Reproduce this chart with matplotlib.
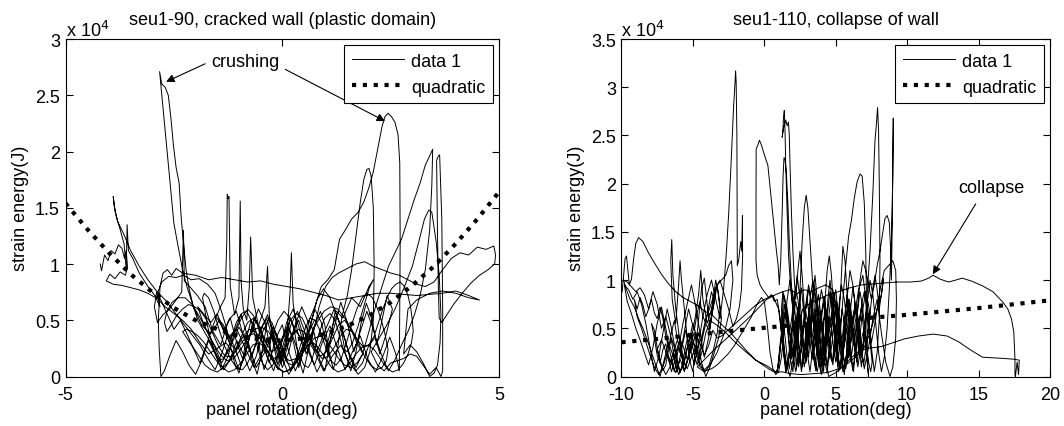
import numpy as np
import matplotlib
matplotlib.use("Agg")
import matplotlib.pyplot as plt

plt.rcParams['font.family'] = ['Liberation Sans', 'DejaVu Sans']
plt.rcParams['axes.unicode_minus'] = False

# ---- seu1-90 : panel rotation (deg) and strain energy (x 1e4 J) ----
rot_90 = [
    -4.20, -4.17, -4.10, -4.02, -3.95, -3.86, -3.78, -3.70, -3.64, -3.60,
    -3.57, -3.62, -3.74, -3.86, -3.98, -4.06, -3.90, -3.70, -3.50, -3.30,
    -3.10, -2.92, -2.82, -2.88, -2.78, -2.62, -2.45, -2.28, -2.10, -1.92,
    -1.72, -1.55, -1.42, -1.30, -1.20, -1.10, -1.00, -0.92, -0.82, -0.72,
    -0.62, -0.52, -0.42, -0.32, -0.22, -0.12, -0.02, 0.08, 0.18, 0.28,
    0.38, 0.48, 0.58, 0.72, 0.88, 0.98, 1.08, 1.18, 1.28, 1.38,
    1.50, 1.60, 1.70, 1.80, 1.88, 1.95, 2.00, 2.05, 2.10, 2.12,
    2.10, 2.02, 1.90, 1.75, 1.55, 1.35, 1.15, 0.95, 0.75, 0.55,
    0.35, 0.15, -0.05, -0.25, -0.45, -0.65, -0.85, -1.05, -1.25, -1.45,
    -1.65, -1.85, -2.05, -2.20, -2.30, -2.40, -2.50, -2.62, -2.74, -2.83,
    -2.78, -2.70, -2.63, -2.57, -2.51, -2.45, -2.38, -2.33, -2.28, -2.22,
    -2.15, -2.05, -1.95, -1.80, -1.65, -1.50, -1.35, -1.20, -1.05, -0.90,
    -0.75, -0.60, -0.45, -0.30, -0.15, 0.00, 0.15, 0.30, 0.45, 0.60,
    0.75, 0.90, 1.05, 1.20, 1.32, 1.45, 1.60, 1.75, 1.88, 2.00,
    2.10, 2.20, 2.30, 2.37, 2.44, 2.52, 2.60, 2.67, 2.71, 2.72,
    2.71, 2.70, 2.62, 2.48, 2.32, 2.15, 1.98, 1.80, 1.62, 1.45,
    1.28, 1.10, 0.92, 0.74, 0.56, 0.38, 0.20, 0.02, -0.16, -0.34,
    -0.52, -0.70, -0.88, -1.06, -1.24, -1.42, -1.60, -1.78, -1.96, -2.14,
    -2.26, -2.28, -2.32, -2.45, -2.60, -2.75, -2.88, -2.95, -2.90, -2.80,
    -2.65, -2.50, -2.35, -2.20, -2.05, -1.90, -1.75, -1.60, -1.45, -1.32,
    -1.28, -1.27, -1.25, -1.23, -1.20, -1.10, -1.00, -0.97, -0.95, -0.90,
    -0.82, -0.76, -0.73, -0.68, -0.55, -0.40, -0.34, -0.30, -0.20, -0.05,
    0.10, 0.18, 0.21, 0.25, 0.35, 0.50, 0.65, 0.80, 0.95, 1.10,
    1.25, 1.40, 1.55, 1.70, 1.85, 2.00, 2.15, 2.30, 2.45, 2.60,
    2.75, 2.90, 3.05, 3.18, 3.30, 3.40, 3.47, 3.45, 3.40, 3.30,
    3.18, 3.05, 2.90, 2.75, 2.60, 2.45, 2.30, 2.15, 2.00, 1.85,
    1.70, 1.55, 1.40, 1.25, 1.10, 0.95, 0.80, 0.65, 0.50, 0.35,
    0.20, 0.05, -0.10, -0.25, -0.40, -0.55, -0.70, -0.85, -1.00, -1.15,
    -1.30, -1.50, -1.70, -1.90, -2.10, -2.30, -2.50, -2.70, -2.90, -3.10,
    -3.30, -3.45, -3.55, -3.58, -3.60, -3.65, -3.75, -3.85, -3.90, -3.88,
    -3.80, -3.65, -3.50, -3.30, -3.10, -2.90, -2.70, -2.50, -2.30, -2.10,
    -1.90, -1.72, -1.55, -1.40, -1.25, -1.10, -0.95, -0.80, -0.65, -0.50,
    -0.35, -0.20, -0.05, 0.10, 0.25, 0.40, 0.55, 0.70, 0.85, 1.00,
    1.15, 1.30, 1.50, 1.70, 1.90, 2.10, 2.30, 2.50, 2.70, 2.90,
    3.10, 3.30, 3.50, 3.70, 3.90, 4.10, 4.30, 4.50, 4.70, 4.88,
    4.92, 4.90, 4.75, 4.55, 4.35, 4.15, 3.95, 3.78, 3.68, 3.62,
    3.60, 3.58, 3.56, 3.60, 3.63, 3.68, 3.70, 3.70, 3.66, 3.55,
    3.40, 3.25, 3.10, 2.95, 2.80, 2.65, 2.50, 2.35, 2.20, 2.05,
    2.20, 2.40, 2.60, 2.80, 3.00, 3.15, 3.28, 3.38, 3.45, 3.55,
    3.62, 3.66, 3.64, 3.58, 3.50, 3.40, 3.25, 3.10, 2.95, 2.80,
    2.90, 3.10, 3.40, 3.70, 4.00, 4.30, 4.55, 4.30, 4.00, 3.70,
    3.40, 3.10, 2.80, 2.50, 2.20, 1.90, 1.60, 1.30, 1.00, 0.70,
    0.40, 0.10, -0.20, -0.50, -0.80, -1.10, -1.40, -1.70, -2.00, -2.30,
    -2.45, -2.55, -2.65, -2.75, -2.82, -2.86, -2.84, -2.80, -2.72, -2.60,
    -2.45, -2.30, -2.15, -2.00, -1.85, -1.70, -1.55, -1.40, -1.25, -1.10,
    -0.95, -0.82, -0.70, -0.58, -0.46, -0.34, -0.22, -0.10, 0.02, 0.14,
    0.26, 0.38, 0.50, 0.62, 0.74, 0.86, 0.98, 1.10, 1.22, 1.34,
    1.46, 1.58, 1.70, 1.82, 1.94, 2.06, 2.18, 2.30, 2.42, 2.54,
    2.40, 2.25, 2.10, 1.95, 1.80, 1.65, 1.50, 1.35, 1.20, 1.05,
    0.90, 0.75, 0.60, 0.45, 0.30, 0.15, 0.00, -0.15, -0.30, -0.45,
    -0.60, -0.75, -0.90, -1.05, -1.20, -1.35, -1.50, -1.65, -1.80, -1.95,
    -1.80, -1.60, -1.40, -1.20, -1.00, -0.80, -0.60, -0.40, -0.20, 0.00,
    0.20, 0.40, 0.60, 0.80, 1.00, 1.20, 1.40, 1.60, 1.80, 2.00,
    2.10, 2.00, 1.88, 1.75, 1.62, 1.50, 1.40, 1.32, 1.22, 1.10,
    0.98, 0.86, 0.76, 0.68, 0.60, 0.50, 0.38, 0.26, 0.16, 0.08,
    0.00, -0.10, -0.22, -0.34, -0.46, -0.56, -0.64, -0.72, -0.82, -0.94,
    -1.06, -1.16, -1.26, -1.36, -1.46, -1.56, -1.66, -1.74, -1.80, -1.84,
    -1.80, -1.70, -1.58, -1.46, -1.34, -1.20, -1.06, -0.92, -0.80, -0.68,
    -0.56, -0.44, -0.34, -0.24, -0.12, 0.00, 0.12, 0.24, 0.34, 0.44,
    0.54, 0.64, 0.76, 0.88, 1.00, 1.12, 1.24, 1.36, 1.48, 1.60,
    1.72, 1.84, 1.96, 2.08, 2.20, 2.30, 2.38, 2.44, 2.40, 2.30,
    2.18, 2.04, 1.90, 1.76, 1.62, 1.48, 1.34, 1.20, 1.06, 0.92,
    0.78, 0.64, 0.50, 0.36, 0.22, 0.08, -0.06, -0.20, -0.34, -0.48,
    -0.62, -0.76, -0.90, -1.04, -1.18, -1.32, -1.46, -1.60, -1.74, -1.88,
    -2.02, -2.16, -2.30, -2.44, -2.56, -2.66, -2.72, -2.66, -2.54, -2.40,
    -2.24, -2.08, -1.92, -1.76, -1.60, -1.44, -1.28, -1.12, -0.96, -0.80,
    -0.64, -0.48, -0.32, -0.16, 0.00, 0.16, 0.32, 0.48, 0.64, 0.80,
    0.96, 1.12, 1.28, 1.44, 1.60, 1.74, 1.88, 2.00, 2.12, 2.22,
    2.32, 2.42, 2.52, 2.62, 2.72, 2.82, 2.90, 2.96, 3.00, 3.02,
    2.98, 2.90, 2.80, 2.68, 2.54, 2.40, 2.26, 2.12, 1.98, 1.84,
    1.70, 1.56, 1.42, 1.28, 1.14, 1.00, 0.86, 0.72, 0.58, 0.44,
    0.30, 0.16, 0.02, -0.12, -0.26, -0.40, -0.54, -0.68, -0.82, -0.96,
    -1.10, -1.24, -1.38, -1.52, -1.66, -1.80, -1.94, -2.08, -2.20, -2.30,
    -2.20, -2.06, -1.92, -1.78, -1.64, -1.50, -1.36, -1.22, -1.08, -0.94,
    -0.80, -0.66, -0.52, -0.38, -0.24, -0.10, 0.04, 0.18, 0.32, 0.46,
    0.60, 0.74, 0.88, 1.02, 1.16, 1.30, 1.44, 1.58, 1.72, 1.86,
    1.72, 1.58, 1.44, 1.30, 1.16, 1.02, 0.88, 0.74, 0.60, 0.46,
    0.32, 0.18, 0.04, -0.10, -0.24, -0.38, -0.52, -0.66, -0.80, -0.94,
    -1.08, -1.22, -1.36, -1.50, -1.36, -1.22, -1.08, -0.94, -0.80, -0.66,
    -0.52, -0.38, -0.24, -0.10, 0.04, 0.18, 0.32, 0.46, 0.60, 0.74,
]
energy_90 = [
    1.00, 0.94, 1.08, 1.03, 1.12, 1.09, 1.17, 1.14, 1.05, 1.12,
    0.97, 0.90, 0.93, 0.87, 0.91, 0.85, 0.82, 0.81, 0.79, 0.77,
    0.74, 0.70, 0.62, 0.74, 0.84, 0.89, 0.88, 0.90, 0.86, 0.87,
    0.82, 0.74, 0.60, 0.45, 0.28, 0.12, 0.03, 0.14, 0.35, 0.50,
    0.42, 0.24, 0.06, 0.18, 0.44, 0.36, 0.12, 0.26, 0.52, 0.41,
    0.16, 0.03, 0.20, 0.43, 0.58, 0.46, 0.22, 0.06, 0.26, 0.54,
    0.72, 0.95, 1.25, 1.55, 1.75, 1.84, 1.85, 1.78, 1.50, 0.95,
    0.50, 0.22, 0.08, 0.02, 0.12, 0.28, 0.18, 0.05, 0.22, 0.35,
    0.15, 0.02, 0.20, 0.38, 0.22, 0.08, 0.25, 0.42, 0.35, 0.50,
    0.38, 0.45, 0.62, 0.80, 0.95, 1.15, 1.36, 1.85, 2.35, 2.71,
    2.60, 2.57, 2.50, 2.30, 2.05, 1.86, 1.72, 1.40, 1.20, 0.95,
    0.78, 0.62, 0.50, 0.40, 0.30, 0.18, 0.06, 0.15, 0.32, 0.20,
    0.05, 0.18, 0.40, 0.52, 0.30, 0.08, 0.22, 0.46, 0.62, 0.48,
    0.62, 0.80, 0.86, 0.95, 1.22, 1.30, 1.40, 1.46, 1.55, 1.68,
    1.82, 2.02, 2.22, 2.31, 2.34, 2.31, 2.26, 2.15, 1.90, 1.20,
    0.55, 0.05, 0.20, 0.35, 0.18, 0.04, 0.15, 0.36, 0.22, 0.06,
    0.24, 0.45, 0.30, 0.10, 0.26, 0.50, 0.36, 0.14, 0.32, 0.55,
    0.40, 0.18, 0.34, 0.58, 0.50, 0.28, 0.40, 0.62, 0.72, 0.80,
    0.85, 1.30, 0.75, 0.68, 0.60, 0.55, 0.48, 0.62, 0.75, 0.68,
    0.55, 0.42, 0.50, 0.38, 0.25, 0.12, 0.28, 0.45, 0.60, 0.70,
    1.20, 1.62, 1.58, 1.60, 0.80, 0.55, 0.70, 1.56, 0.85, 0.60,
    0.50, 0.80, 1.24, 0.70, 0.45, 0.62, 0.98, 0.55, 0.30, 0.12,
    0.35, 0.75, 1.10, 0.65, 0.40, 0.25, 0.45, 0.68, 0.78, 0.70,
    0.55, 0.38, 0.20, 0.08, 0.20, 0.40, 0.62, 0.80, 0.98, 1.10,
    1.22, 1.40, 1.58, 1.72, 1.88, 1.96, 2.02, 1.70, 1.30, 0.95,
    0.72, 0.55, 0.40, 0.28, 0.15, 0.05, 0.18, 0.35, 0.28, 0.12,
    0.05, 0.18, 0.40, 0.55, 0.38, 0.16, 0.04, 0.20, 0.42, 0.58,
    0.46, 0.22, 0.06, 0.20, 0.48, 0.60, 0.44, 0.20, 0.06, 0.22,
    0.30, 0.25, 0.20, 0.30, 0.42, 0.50, 0.56, 0.62, 0.70, 0.80,
    0.92, 1.05, 1.12, 1.35, 0.95, 1.18, 1.32, 1.45, 1.60, 1.52,
    1.38, 1.26, 1.12, 0.98, 0.86, 0.76, 0.68, 0.58, 0.48, 0.38,
    0.28, 0.16, 0.06, 0.20, 0.38, 0.26, 0.10, 0.28, 0.52, 0.42,
    0.18, 0.05, 0.25, 0.48, 0.60, 0.42, 0.20, 0.36, 0.62, 0.80,
    0.88, 0.92, 0.96, 1.00, 1.02, 0.98, 0.95, 0.92, 0.90, 0.86,
    0.82, 0.80, 0.84, 0.95, 1.05, 1.10, 1.08, 1.15, 1.13, 1.16,
    1.08, 1.00, 0.95, 0.90, 0.83, 0.74, 0.64, 0.54, 0.48, 0.52,
    0.80, 1.30, 1.92, 1.96, 1.97, 1.40, 0.60, 0.05, 0.00, 0.08,
    0.02, 0.10, 0.18, 0.20, 0.16, 0.14, 0.12, 0.05, 0.10, 0.22,
    0.32, 0.45, 0.60, 0.78, 0.98, 1.20, 1.40, 1.48, 1.46, 1.20,
    0.90, 0.55, 0.30, 0.10, 0.03, 0.00, 0.12, 0.22, 0.28, 0.20,
    0.60, 0.68, 0.74, 0.76, 0.74, 0.70, 0.68, 0.72, 0.76, 0.74,
    0.73, 0.72, 0.73, 0.74, 0.74, 0.72, 0.70, 0.68, 0.72, 0.75,
    0.78, 0.80, 0.82, 0.85, 0.84, 0.86, 0.88, 0.86, 0.90, 0.92,
    0.96, 0.90, 0.95, 0.92, 0.80, 0.50, 0.25, 0.00, 0.05, 0.18,
    0.32, 0.22, 0.10, 0.02, 0.15, 0.32, 0.20, 0.06, 0.18, 0.40,
    0.55, 0.38, 0.15, 0.02, 0.24, 0.50, 0.32, 0.10, 0.28, 0.45,
    0.30, 0.08, 0.25, 0.50, 0.38, 0.15, 0.05, 0.30, 0.58, 0.46,
    0.20, 0.05, 0.22, 0.48, 0.65, 0.52, 0.28, 0.50, 0.72, 0.60,
    0.38, 0.20, 0.42, 0.58, 0.40, 0.22, 0.48, 0.66, 0.44, 0.25,
    0.48, 0.60, 0.40, 0.18, 0.05, 0.22, 0.46, 0.34, 0.12, 0.28,
    0.50, 0.36, 0.14, 0.30, 0.52, 0.40, 0.56, 0.48, 0.55, 0.62,
    0.45, 0.30, 0.12, 0.26, 0.44, 0.30, 0.08, 0.22, 0.40, 0.26,
    0.05, 0.20, 0.36, 0.22, 0.42, 0.60, 0.52, 0.70, 0.62, 0.80,
    0.86, 0.78, 0.62, 0.45, 0.30, 0.22, 0.25, 0.36, 0.50, 0.56,
    0.52, 0.40, 0.26, 0.14, 0.08, 0.10, 0.20, 0.34, 0.42, 0.40,
    0.32, 0.20, 0.10, 0.06, 0.12, 0.24, 0.38, 0.50, 0.58, 0.56,
    0.48, 0.36, 0.24, 0.16, 0.14, 0.22, 0.34, 0.48, 0.62, 0.70,
    0.74, 0.70, 0.58, 0.42, 0.28, 0.16, 0.08, 0.06, 0.12, 0.22,
    0.34, 0.46, 0.52, 0.48, 0.36, 0.22, 0.12, 0.10, 0.18, 0.30,
    0.44, 0.52, 0.50, 0.40, 0.26, 0.14, 0.10, 0.16, 0.30, 0.46,
    0.60, 0.70, 0.74, 0.70, 0.60, 0.48, 0.36, 0.24, 0.14, 0.08,
    0.06, 0.10, 0.18, 0.30, 0.40, 0.42, 0.36, 0.26, 0.18, 0.16,
    0.22, 0.32, 0.40, 0.42, 0.36, 0.26, 0.18, 0.16, 0.22, 0.32,
    0.40, 0.42, 0.36, 0.26, 0.18, 0.18, 0.26, 0.38, 0.50, 0.58,
    0.62, 0.64, 0.60, 0.54, 0.46, 0.40, 0.48, 0.58, 0.66, 0.70,
    0.70, 0.64, 0.54, 0.42, 0.30, 0.20, 0.14, 0.16, 0.24, 0.34,
    0.42, 0.44, 0.40, 0.30, 0.20, 0.14, 0.16, 0.24, 0.36, 0.48,
    0.58, 0.62, 0.60, 0.52, 0.42, 0.32, 0.26, 0.28, 0.36, 0.48,
    0.60, 0.70, 0.78, 0.82, 0.84, 0.80, 0.72, 0.62, 0.50, 0.40,
    0.30, 0.20, 0.12, 0.06, 0.04, 0.08, 0.16, 0.24, 0.28, 0.26,
    0.20, 0.12, 0.06, 0.04, 0.08, 0.16, 0.24, 0.30, 0.28, 0.20,
    0.12, 0.06, 0.04, 0.08, 0.16, 0.26, 0.30, 0.28, 0.20, 0.12,
    0.06, 0.04, 0.08, 0.14, 0.22, 0.30, 0.36, 0.40, 0.42, 0.40,
    0.34, 0.26, 0.18, 0.10, 0.06, 0.04, 0.08, 0.14, 0.22, 0.30,
    0.36, 0.38, 0.34, 0.26, 0.16, 0.08, 0.04, 0.06, 0.12, 0.20,
    0.28, 0.34, 0.36, 0.32, 0.24, 0.16, 0.10, 0.08, 0.12, 0.20,
    0.30, 0.42, 0.50, 0.46, 0.34, 0.22, 0.18, 0.26, 0.40, 0.52,
    0.56, 0.50, 0.38, 0.26, 0.22, 0.30, 0.44, 0.52, 0.48, 0.36,
    0.24, 0.30, 0.42, 0.52, 0.46, 0.34, 0.40, 0.52, 0.60, 0.54,
    0.42, 0.30, 0.36, 0.50, 0.58, 0.52, 0.40, 0.32, 0.38, 0.50,
]

# quadratic fit of seu1-90, read at every 0.5 deg
quad_rot_90 = [-5.0, -4.5, -4.0, -3.5, -3.0, -2.5, -2.0, -1.5, -1.0, -0.5, 0.0,
               0.5, 1.0, 1.5, 2.0, 2.5, 3.0, 3.5, 4.0, 4.5, 5.0]
quad_energy_90 = [1.54, 1.31, 1.10, 0.91, 0.75, 0.61, 0.50, 0.42, 0.36, 0.33, 0.32,
                  0.34, 0.38, 0.45, 0.54, 0.66, 0.81, 0.98, 1.18, 1.40, 1.64]

# ---- seu1-110 ----
rot_110 = [
    -9.95, -9.85, -9.75, -9.65, -9.55, -9.45, -9.30, -9.15, -9.00, -8.80,
    -8.50, -8.10, -7.70, -7.20, -6.70, -6.20, -5.70, -5.20, -4.70, -4.20,
    -3.60, -3.00, -2.40, -1.80, -1.20, -0.60, 0.00, 0.40, 0.80, 1.00,
    1.20, 1.40, 1.60, 1.80, 2.00, 2.20, 2.40, 2.60, 2.80, 3.00,
    3.20, 3.40, 3.60, 3.80, 4.00, 4.20, 4.40, 4.60, 4.80, 5.00,
    5.20, 5.40, 5.60, 5.80, 6.00, 6.20, 6.40, 6.60, 6.80, 7.00,
    7.20, 7.40, 7.60, 7.75, 7.85, 7.93, 8.00, 8.05, 8.10, 8.05,
    7.90, 7.70, 7.50, 7.30, 7.10, 6.90, 6.70, 6.50, 6.30, 6.10,
    5.90, 5.70, 5.50, 5.30, 5.10, 4.90, 4.70, 4.50, 4.30, 4.10,
    3.90, 3.70, 3.50, 3.30, 3.10, 2.90, 2.70, 2.50, 2.30, 2.10,
    1.90, 1.70, 1.50, 1.30, 1.10, 0.90, 0.70, 0.50, 0.30, 0.10,
    -0.10, -0.30, -0.50, -0.58, -0.58, -0.57, -0.45, -0.34, -0.20, 0.00,
    0.25, 0.45, 0.65, 0.85, 0.97, 1.05, 1.15, 1.25, 1.32, 1.38,
    1.45, 1.55, 1.65, 1.75, 1.85, 1.95, 2.05, 2.15, 2.25, 2.35,
    2.50, 2.65, 2.80, 2.93, 3.05, 3.20, 3.35, 3.50, 3.65, 3.80,
    3.95, 4.10, 4.25, 4.40, 4.55, 4.70, 4.85, 5.00, 5.15, 5.30,
    5.50, 5.70, 5.90, 6.10, 6.30, 6.50, 6.70, 6.85, 7.00, 7.10,
    7.15, 7.20, 7.25, 7.30, 7.20, 7.00, 6.80, 6.60, 6.40, 6.20,
    6.00, 5.80, 5.60, 5.40, 5.20, 5.00, 4.80, 4.60, 4.40, 4.20,
    4.00, 3.80, 3.60, 3.40, 3.20, 3.00, 2.80, 2.60, 2.40, 2.20,
    2.00, 1.85, 1.70, 1.60, 1.50, 1.45, 1.40, 1.35, 1.30, 1.25,
    1.35, 1.50, 1.60, 1.69, 1.75, 1.80, 1.90, 2.00, 2.10, 2.20,
    2.35, 2.50, 2.65, 2.80, 2.95, 3.10, 3.25, 3.40, 3.55, 3.70,
    3.85, 4.00, 4.15, 4.30, 4.45, 4.60, 4.75, 4.90, 5.05, 5.20,
    5.35, 5.50, 5.65, 5.80, 5.95, 6.10, 6.25, 6.40, 6.55, 6.70,
    6.90, 7.10, 7.30, 7.50, 7.70, 7.90, 8.10, 8.30, 8.45, 8.60,
    8.75, 8.85, 8.90, 8.95, 9.00, 9.03, 9.00, 8.90, 8.75, 8.60,
    8.40, 8.20, 8.00, 7.80, 7.60, 7.40, 7.20, 7.00, 6.80, 6.60,
    6.40, 6.20, 6.00, 5.80, 5.60, 5.40, 5.20, 5.00, 4.80, 4.60,
    4.40, 4.20, 4.00, 3.80, 3.60, 3.40, 3.20, 3.00, 2.80, 2.60,
    2.40, 2.20, 2.00, 1.80, 1.60, 1.40, 1.20, 1.00, 0.80, 0.60,
    0.40, 0.20, 0.00, -0.20, -0.50, -0.90, -1.30, -1.70, -2.10, -2.50,
    -2.90, -3.30, -3.70, -4.10, -4.50, -4.80, -5.10, -5.40, -5.70, -6.00,
    -6.30, -6.60, -6.90, -7.20, -7.50, -7.80, -8.10, -8.40, -8.70, -9.00,
    -9.30, -9.60, -9.85, -9.70, -9.40, -9.10, -8.80, -8.50, -8.20, -7.90,
    -7.60, -7.30, -7.00, -6.70, -6.40, -6.10, -5.80, -5.50, -5.20, -4.90,
    -4.60, -4.30, -4.00, -3.70, -3.40, -3.10, -2.85, -2.65, -2.49, -2.30,
    -2.15, -2.05, -2.01, -1.97, -1.92, -1.89, -1.80, -1.65, -1.58, -1.53,
    -1.52, -1.60, -1.75, -1.95, -2.20, -2.50, -2.80, -3.10, -3.40, -3.70,
    -4.00, -4.30, -4.45, -4.60, -4.85, -5.10, -5.35, -5.60, -5.90, -6.20,
    -6.40, -6.48, -6.55, -6.45, -6.20, -6.00, -5.90, -5.80, -5.60, -5.40,
    -5.20, -5.00, -4.80, -4.60, -4.40, -4.20, -4.00, -3.80, -3.60, -3.40,
    -3.20, -3.00, -3.20, -3.50, -3.80, -4.10, -4.40, -4.70, -5.00, -5.30,
    -5.60, -5.90, -6.20, -6.50, -6.80, -7.10, -7.40, -7.70, -8.00, -8.30,
    -8.60, -8.90, -9.20, -9.50, -9.80, -9.60, -9.30, -9.00, -8.70, -8.40,
    -8.10, -7.80, -7.50, -7.20, -6.90, -6.60, -6.30, -6.00, -5.70, -5.40,
    -5.10, -4.80, -4.50, -4.20, -3.90, -3.60, -3.30, -3.00, -2.70, -2.50,
    -2.30, -2.20, -2.40, -2.80, -3.30, -3.80, -4.30, -4.70, -3.50, -2.00,
    -0.80, 0.17, 0.80, 1.30, 1.80, 2.30, 2.80, 3.30, 3.80, 4.30,
    4.80, 5.10, 5.40, 5.70, 6.00, 6.30, 6.60, 6.90, 7.20, 7.50,
    7.80, 8.10, 8.40, 8.70, 9.00, 9.20, 9.25, 9.20, 9.00, 8.80,
    8.50, 8.20, 7.90, 7.60, 7.30, 7.00, 6.70, 6.40, 6.10, 5.80,
    5.50, 5.20, 4.90, 4.60, 4.30, 4.00, 3.70, 3.40, 3.10, 2.80,
    2.50, 2.20, 1.90, 1.60, 1.35, 1.20, 1.50, 1.80, 2.10, 2.40,
    2.70, 3.20, 3.80, 4.50, 5.20, 6.00, 6.80, 7.60, 8.40, 9.30,
    10.20, 11.00, 11.50, 11.82, 12.30, 12.90, 13.40, 13.85, 14.50, 15.28,
    16.00, 16.71, 17.05, 17.30, 17.47, 17.52, 17.55, 17.55, 17.55, 17.58,
    17.70, 17.80, 17.85, 17.43, 16.50, 15.28, 14.50, 13.60, 12.80, 11.82,
    10.80, 9.80, 9.00, 8.20, 7.17, 6.50, 6.00, 5.50, 5.00, 4.50,
    4.30, 4.15, 4.00, 3.85, 3.70, 3.55, 3.40, 3.25, 3.10, 2.95,
    2.80, 2.65, 2.50, 2.35, 2.20, 2.05, 1.90, 1.75, 1.60, 1.45,
    1.30, 1.15, 1.00, 0.90, 1.00, 1.15, 1.30, 1.45, 1.60, 1.75,
    1.90, 2.05, 2.20, 2.35, 2.50, 2.65, 2.80, 2.95, 3.10, 3.25,
    3.40, 3.55, 3.70, 3.85, 4.00, 4.15, 4.30, 4.45, 4.60, 4.75,
    4.90, 5.05, 5.20, 5.35, 5.50, 5.65, 5.80, 5.95, 6.10, 6.25,
    6.40, 6.55, 6.70, 6.85, 7.00, 7.15, 7.30, 7.45, 7.55, 7.45,
    7.30, 7.15, 7.00, 6.85, 6.70, 6.55, 6.40, 6.25, 6.10, 5.95,
    5.80, 5.65, 5.50, 5.35, 5.20, 5.05, 4.90, 4.75, 4.60, 4.45,
    4.30, 4.15, 4.00, 3.85, 3.70, 3.55, 3.40, 3.25, 3.10, 2.95,
    2.80, 2.65, 2.50, 2.35, 2.20, 2.05, 1.90, 1.75, 1.60, 1.45,
    1.30, 1.20, 1.30, 1.45, 1.60, 1.75, 1.90, 2.05, 2.20, 2.35,
    2.50, 2.65, 2.80, 2.95, 3.10, 3.25, 3.40, 3.55, 3.70, 3.85,
    4.00, 4.15, 4.30, 4.45, 4.60, 4.75, 4.90, 5.05, 5.20, 5.35,
    5.50, 5.65, 5.80, 5.95, 6.10, 6.25, 6.40, 6.55, 6.70, 6.85,
    7.00, 7.15, 7.30, 7.45, 7.60, 7.75, 7.90, 8.05, 8.20, 8.35,
    8.20, 7.80, 7.40, 7.00, 6.50, 5.90, 5.20, 4.40, 3.50, 2.60,
    1.80, 1.20, 0.87, 0.20, -0.60, -1.40, -2.00, -2.60, -3.20, -3.80,
    -4.10, -4.30, -4.50, -4.70, -4.90, -5.10, -5.30, -5.50, -5.70, -5.90,
    -6.10, -6.30, -6.50, -6.70, -6.90, -7.10, -7.30, -7.50, -7.70, -7.90,
    -7.70, -7.50, -7.30, -7.10, -6.90, -6.70, -6.50, -6.30, -6.10, -5.90,
    -5.70, -5.50, -5.30, -5.10, -4.90, -4.70, -4.50, -4.30, -4.10, -3.90,
    -3.70, -3.50, -3.70, -3.90, -4.10, -4.30, -4.50, -4.70, -4.90, -5.10,
    -5.30, -5.50, -5.70, -5.90, -6.10, -6.30, -6.50, -6.70, -6.90, -7.10,
    -7.30, -7.50, -7.70, -7.90, -8.10, -8.30, -8.50, -8.70, -8.90, -9.10,
    -8.90, -8.60, -8.30, -8.00, -7.70, -7.40, -7.10, -6.80, -6.50, -6.20,
    -5.90, -5.60, -5.30, -5.00, -4.70, -4.40, -4.10, -3.80, -3.50, -3.30,
    -3.10, -3.30, -3.60, -3.90, -4.20, -4.50, -4.80, -5.10, -5.40, -5.70,
    -6.00, -6.30, -6.60, -6.90, -7.20, -7.50, -7.20, -6.90, -6.60, -6.30,
    -6.00, -5.70, -5.40, -5.10, -4.80, -4.50, -4.20, -3.90, -3.60, -3.30,
    -3.00, -2.40, -1.80, -1.20, -0.60, 0.00, 0.60, 1.00, 1.20, 1.40,
    1.55, 1.70, 1.85, 2.00, 2.15, 2.30, 2.45, 2.60, 2.75, 2.90,
    3.05, 3.20, 3.35, 3.50, 3.65, 3.80, 3.95, 4.10, 4.25, 4.40,
    4.55, 4.70, 4.85, 5.00, 5.15, 5.30, 5.45, 5.60, 5.75, 5.90,
    6.05, 6.20, 6.35, 6.50, 6.65, 6.80, 6.95, 7.10, 7.25, 7.40,
    7.25, 7.10, 6.95, 6.80, 6.65, 6.50, 6.35, 6.20, 6.05, 5.90,
    5.75, 5.60, 5.45, 5.30, 5.15, 5.00, 4.85, 4.70, 4.55, 4.40,
    4.25, 4.10, 3.95, 3.80, 3.65, 3.50, 3.35, 3.20, 3.05, 2.90,
    2.75, 2.60, 2.45, 2.30, 2.15, 2.00, 1.85, 1.70, 1.55, 1.40,
]
energy_110 = [
    0.88, 1.05, 1.22, 1.25, 1.10, 0.95, 1.01, 1.22, 1.38, 1.44,
    1.40, 1.28, 1.18, 1.06, 0.96, 0.88, 0.82, 0.78, 0.74, 0.68,
    0.63, 0.54, 0.46, 0.36, 0.26, 0.17, 0.11, 0.07, 0.04, 0.10,
    0.40, 0.75, 0.55, 0.20, 0.05, 0.35, 0.70, 0.92, 0.60, 0.25,
    0.05, 0.30, 0.68, 0.85, 0.55, 0.18, 0.04, 0.32, 0.72, 0.90,
    0.62, 0.25, 0.02, 0.30, 0.65, 0.92, 0.70, 0.35, 0.10, 0.45,
    0.85, 1.30, 1.90, 2.45, 2.62, 2.79, 2.55, 2.00, 1.20, 0.60,
    0.25, 0.05, 0.30, 0.62, 0.88, 0.70, 0.42, 0.15, 0.35, 0.60,
    0.80, 0.55, 0.28, 0.08, 0.30, 0.62, 0.85, 0.60, 0.32, 0.12,
    0.38, 0.70, 0.95, 0.72, 0.40, 0.15, 0.42, 0.80, 1.05, 0.75,
    0.45, 0.18, 0.05, 0.30, 0.62, 0.80, 0.78, 0.85, 0.82, 0.86,
    0.90, 0.95, 1.05, 1.20, 1.80, 2.36, 2.40, 2.45, 2.40, 2.30,
    2.19, 1.90, 1.60, 1.30, 1.15, 0.95, 1.20, 1.70, 2.10, 2.27,
    2.25, 2.10, 1.80, 1.40, 1.10, 0.80, 0.55, 0.30, 0.08, 0.35,
    0.90, 1.40, 1.75, 1.88, 1.75, 1.40, 1.05, 0.70, 0.40, 0.15,
    0.05, 0.35, 0.78, 1.10, 1.25, 1.05, 0.70, 0.35, 0.10, 0.40,
    0.80, 1.15, 1.45, 1.62, 1.85, 2.02, 2.10, 2.08, 1.80, 1.30,
    0.85, 0.40, 0.10, 0.00, 0.15, 0.42, 0.72, 0.55, 0.28, 0.06,
    0.25, 0.55, 0.80, 0.95, 0.70, 0.40, 0.12, 0.30, 0.60, 0.82,
    0.60, 0.30, 0.06, 0.25, 0.55, 0.80, 0.62, 0.30, 0.10, 0.40,
    0.70, 0.90, 1.25, 1.70, 2.20, 2.55, 2.76, 2.70, 2.55, 2.48,
    2.58, 2.66, 2.60, 2.64, 2.50, 2.20, 1.70, 1.30, 1.00, 0.80,
    1.10, 1.30, 1.05, 0.70, 0.40, 0.20, 0.48, 0.85, 1.05, 0.80,
    0.50, 0.20, 0.05, 0.40, 0.80, 1.00, 0.75, 0.45, 0.20, 0.55,
    0.90, 1.35, 1.20, 0.85, 0.50, 0.20, 0.05, 0.35, 0.75, 1.00,
    1.20, 1.10, 0.95, 0.80, 0.95, 1.15, 1.30, 1.50, 1.64, 1.67,
    1.60, 1.30, 1.00, 1.50, 2.20, 2.68, 2.10, 1.40, 0.90, 0.50,
    0.20, 0.05, 0.25, 0.55, 0.85, 1.00, 0.75, 0.45, 0.20, 0.40,
    0.70, 0.95, 1.10, 0.82, 0.50, 0.20, 0.05, 0.30, 0.65, 0.88,
    0.62, 0.35, 0.10, 0.35, 0.75, 1.00, 0.80, 0.50, 0.25, 0.05,
    0.30, 0.60, 0.85, 1.00, 0.80, 0.50, 0.20, 0.05, 0.02, 0.08,
    0.25, 0.55, 0.78, 0.82, 0.75, 0.62, 0.52, 0.42, 0.32, 0.24,
    0.18, 0.12, 0.08, 0.06, 0.10, 0.25, 0.45, 0.30, 0.10, 0.02,
    0.20, 0.45, 0.62, 0.50, 0.75, 0.88, 0.70, 0.85, 0.92, 0.88,
    0.93, 0.98, 1.00, 0.92, 0.80, 0.72, 0.60, 0.50, 0.38, 0.25,
    0.12, 0.00, 0.18, 0.35, 0.22, 0.05, 0.28, 0.48, 0.30, 0.12,
    0.35, 0.62, 0.85, 1.00, 0.80, 0.60, 0.91, 1.30, 1.70, 2.30,
    2.80, 3.05, 3.17, 3.05, 2.50, 1.15, 1.20, 1.40, 1.30, 1.67,
    1.25, 0.90, 0.72, 0.60, 0.52, 0.70, 0.85, 1.00, 0.92, 0.70,
    0.55, 0.80, 1.10, 0.85, 0.60, 0.40, 0.20, 0.05, 0.35, 0.70,
    1.05, 1.42, 1.20, 0.80, 0.55, 0.95, 1.20, 1.00, 0.70, 0.40,
    0.15, 0.05, 0.30, 0.60, 0.90, 1.02, 0.75, 0.50, 0.78, 1.00,
    0.85, 0.60, 0.40, 0.25, 0.10, 0.00, 0.15, 0.40, 0.55, 0.35,
    0.15, 0.05, 0.25, 0.50, 0.70, 0.45, 0.20, 0.05, 0.30, 0.55,
    0.75, 0.88, 0.80, 0.90, 0.95, 0.78, 0.65, 0.50, 0.38, 0.25,
    0.12, 0.30, 0.55, 0.72, 0.50, 0.25, 0.05, 0.30, 0.55, 0.75,
    0.95, 0.72, 0.45, 0.20, 0.40, 0.70, 0.95, 1.00, 1.05, 1.15,
    1.20, 1.00, 0.70, 0.45, 0.25, 0.12, 0.06, 0.10, 0.28, 0.48,
    0.65, 0.80, 0.85, 0.88, 0.90, 0.86, 0.90, 0.88, 0.92, 0.95,
    0.90, 0.60, 0.30, 0.08, 0.30, 0.62, 0.90, 1.05, 0.70, 0.35,
    0.60, 0.90, 1.10, 1.15, 1.20, 1.10, 0.80, 0.40, 0.10, 0.00,
    0.15, 0.45, 0.80, 0.60, 0.30, 0.08, 0.40, 0.75, 0.55, 0.20,
    0.05, 0.40, 0.75, 0.55, 0.20, 0.02, 0.35, 0.70, 0.90, 0.60,
    0.30, 0.05, 0.30, 0.65, 0.85, 0.50, 0.15, 0.00, 0.25, 0.55,
    0.70, 0.76, 0.80, 0.85, 0.88, 0.92, 0.95, 0.96, 0.97, 0.98,
    0.98, 0.99, 1.02, 1.05, 1.01, 0.98, 1.00, 1.02, 0.99, 0.94,
    0.88, 0.77, 0.70, 0.60, 0.46, 0.30, 0.18, 0.10, 0.02, 0.00,
    0.15, 0.02, 0.17, 0.18, 0.19, 0.20, 0.27, 0.36, 0.42, 0.44,
    0.42, 0.39, 0.35, 0.31, 0.29, 0.25, 0.18, 0.10, 0.04, 0.00,
    0.20, 0.42, 0.58, 0.50, 0.30, 0.12, 0.25, 0.48, 0.62, 0.52,
    0.30, 0.10, 0.22, 0.45, 0.60, 0.48, 0.26, 0.08, 0.20, 0.42,
    0.55, 0.40, 0.18, 0.05, 0.15, 0.35, 0.52, 0.66, 0.56, 0.35,
    0.18, 0.32, 0.55, 0.72, 0.60, 0.38, 0.20, 0.35, 0.58, 0.76,
    0.62, 0.40, 0.22, 0.40, 0.66, 0.80, 0.62, 0.38, 0.18, 0.36,
    0.60, 0.78, 0.62, 0.40, 0.22, 0.38, 0.62, 0.80, 0.66, 0.42,
    0.22, 0.38, 0.60, 0.78, 0.88, 0.72, 0.50, 0.30, 0.15, 0.05,
    0.15, 0.32, 0.50, 0.42, 0.25, 0.10, 0.22, 0.45, 0.58, 0.48,
    0.28, 0.12, 0.25, 0.48, 0.66, 0.55, 0.32, 0.15, 0.28, 0.52,
    0.70, 0.58, 0.36, 0.16, 0.05, 0.18, 0.40, 0.58, 0.48, 0.26,
    0.10, 0.25, 0.48, 0.65, 0.78, 0.62, 0.40, 0.22, 0.10, 0.22,
    0.45, 0.70, 0.88, 0.80, 0.62, 0.45, 0.58, 0.78, 0.92, 0.80,
    0.58, 0.42, 0.55, 0.80, 0.95, 0.82, 0.60, 0.42, 0.55, 0.75,
    0.90, 0.78, 0.55, 0.40, 0.52, 0.72, 0.86, 0.70, 0.48, 0.30,
    0.45, 0.66, 0.85, 0.72, 0.50, 0.32, 0.48, 0.70, 0.88, 0.75,
    0.55, 0.35, 0.50, 0.72, 0.92, 1.05, 0.90, 0.70, 0.85, 1.02,
    0.85, 0.65, 0.45, 0.30, 0.22, 0.14, 0.08, 0.04, 0.03, 0.02,
    0.03, 0.05, 0.04, 0.11, 0.17, 0.27, 0.35, 0.44, 0.52, 0.58,
    0.45, 0.30, 0.18, 0.30, 0.46, 0.36, 0.20, 0.10, 0.22, 0.38,
    0.30, 0.15, 0.05, 0.18, 0.34, 0.28, 0.14, 0.22, 0.40, 0.55,
    0.48, 0.30, 0.15, 0.06, 0.12, 0.28, 0.40, 0.30, 0.14, 0.04,
    0.15, 0.32, 0.45, 0.38, 0.22, 0.12, 0.25, 0.42, 0.55, 0.48,
    0.62, 0.78, 0.88, 0.72, 0.56, 0.62, 0.78, 0.66, 0.48, 0.58,
    0.70, 0.55, 0.38, 0.25, 0.40, 0.58, 0.46, 0.30, 0.42, 0.60,
    0.72, 0.60, 0.66, 0.80, 0.70, 0.62, 0.74, 0.82, 0.70, 0.80,
    0.62, 0.50, 0.36, 0.22, 0.10, 0.02, 0.10, 0.24, 0.14, 0.04,
    0.18, 0.06, 0.20, 0.36, 0.28, 0.40, 0.60, 0.72, 0.86, 0.95,
    0.70, 0.45, 0.25, 0.10, 0.04, 0.14, 0.30, 0.20, 0.08, 0.16,
    0.30, 0.22, 0.10, 0.02, 0.12, 0.28, 0.38, 0.26, 0.14, 0.28,
    0.42, 0.32, 0.18, 0.28, 0.44, 0.34, 0.22, 0.32, 0.48, 0.40,
    0.42, 0.50, 0.58, 0.66, 0.74, 0.80, 0.84, 0.70, 0.45, 0.20,
    0.05, 0.20, 0.40, 0.55, 0.45, 0.28, 0.15, 0.30, 0.50, 0.68,
    0.55, 0.35, 0.18, 0.30, 0.52, 0.70, 0.60, 0.40, 0.25, 0.40,
    0.62, 0.50, 0.30, 0.15, 0.30, 0.52, 0.70, 0.55, 0.35, 0.20,
    0.35, 0.58, 0.75, 0.60, 0.40, 0.22, 0.35, 0.58, 0.78, 0.65,
    0.45, 0.28, 0.12, 0.28, 0.50, 0.68, 0.55, 0.32, 0.16, 0.30,
    0.50, 0.35, 0.18, 0.08, 0.22, 0.45, 0.62, 0.48, 0.28, 0.12,
    0.25, 0.50, 0.68, 0.52, 0.30, 0.45, 0.66, 0.50, 0.30, 0.14,
    0.28, 0.52, 0.68, 0.55, 0.36, 0.22, 0.38, 0.60, 0.75, 0.62,
]

quad_rot_110 = [-10.0, -7.5, -5.0, -2.5, 0.0, 2.5, 5.0, 7.5, 10.0, 12.5, 15.0, 17.5, 20.0]
quad_energy_110 = [0.355, 0.39, 0.43, 0.47, 0.505, 0.54, 0.575, 0.61, 0.64, 0.675, 0.71, 0.75, 0.79]

y_ticks_90 = [0, 0.5, 1, 1.5, 2, 2.5, 3]
y_ticks_110 = [0, 0.5, 1, 1.5, 2, 2.5, 3, 3.5]
x_ticks_90 = [-5, 0, 5]
x_ticks_110 = [-10, -5, 0, 5, 10, 15, 20]

FS = 13

fig = plt.figure(figsize=(10.64, 4.27), dpi=100)
ax1 = fig.add_axes([0.0616, 0.1159, 0.4074, 0.7904])
ax2 = fig.add_axes([0.5841, 0.1159, 0.4027, 0.7904])


def setup(ax, rot, energy, qx, qy, xlim, ylim, xt, yt, title):
    data_line, = ax.plot(rot, energy, color='black', lw=0.7, label='data 1')
    quad_line, = ax.plot(qx, qy, color='black', lw=3.0, linestyle=(0, (1, 1.6)),
                         dash_capstyle='butt', label='quadratic', zorder=3)
    ax.set_xlim(*xlim)
    ax.set_ylim(*ylim)
    ax.set_xticks(xt)
    ax.set_xticklabels([str(v) for v in xt])
    ax.set_yticks(yt)
    ax.set_yticklabels([('%g' % v) for v in yt])
    ax.tick_params(direction='in', length=5, width=0.8, top=True, right=True,
                   labelsize=FS)
    ax.tick_params(axis='x', pad=6.5)
    ax.tick_params(axis='y', pad=4)
    for s in ax.spines.values():
        s.set_linewidth(0.8)
    ax.set_xlabel('panel rotation(deg)', fontsize=FS, labelpad=-1)
    ax.set_ylabel('strain energy(J)', fontsize=FS, labelpad=4)
    ax.set_title(title, fontsize=FS, pad=11)
    ax.text(0.0, 0.998, r'x 10$^4$', transform=ax.transAxes, fontsize=FS,
            ha='left', va='bottom')
    leg = ax.legend(handles=[data_line, quad_line], loc='upper right', fontsize=FS,
                    frameon=True, fancybox=False, edgecolor='black', framealpha=1,
                    handlelength=2.9, handletextpad=0.4, borderpad=0.4,
                    labelspacing=0.5, borderaxespad=0.35)
    leg.get_frame().set_linewidth(0.8)


setup(ax1, rot_90, energy_90, quad_rot_90, quad_energy_90, (-5, 5), (0, 3),
      x_ticks_90, y_ticks_90, 'seu1-90, cracked wall (plastic domain)')
setup(ax2, rot_110, energy_110, quad_rot_110, quad_energy_110, (-10, 20), (0, 3.5),
      x_ticks_110, y_ticks_110, 'seu1-110, collapse of wall')

arrow = dict(arrowstyle='-|>', color='black', lw=0.8, mutation_scale=12,
             shrinkA=0, shrinkB=0)
ax1.text(-0.85, 2.80, 'crushing', fontsize=FS, ha='center', va='center')
ax1.annotate('', xy=(-2.68, 2.62), xytext=(-1.78, 2.78), arrowprops=arrow)
ax1.annotate('', xy=(2.37, 2.27), xytext=(0.07, 2.73), arrowprops=arrow)

ax2.text(15.9, 1.96, 'collapse', fontsize=FS, ha='center', va='center')
ax2.annotate('', xy=(11.8, 1.06), xytext=(14.8, 1.79), arrowprops=arrow)

fig.savefig('out.png', dpi=100)
